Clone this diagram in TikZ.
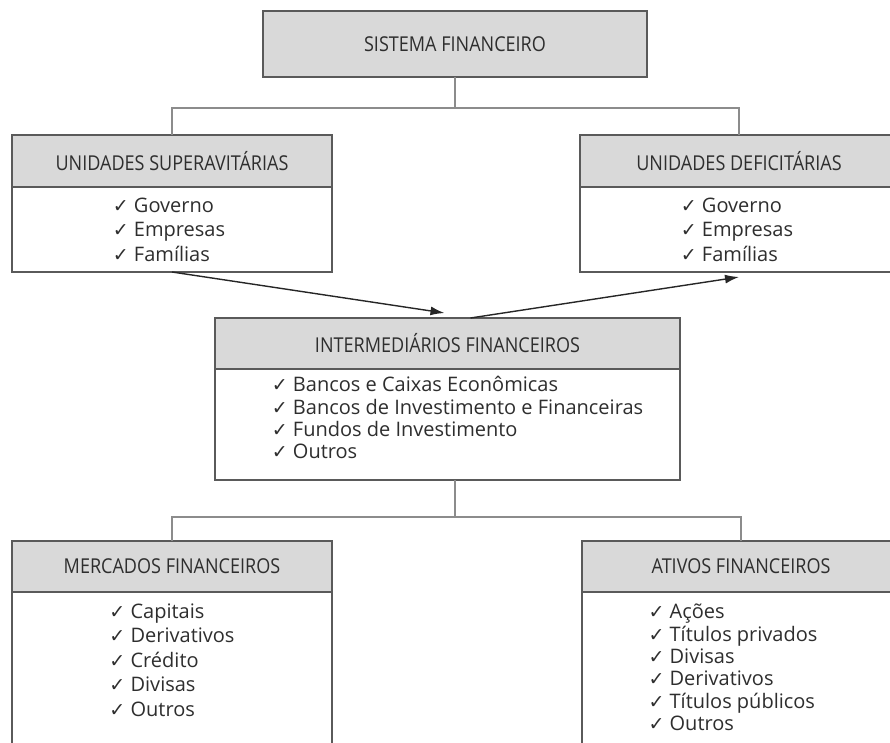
\documentclass[tikz,border=0pt]{standalone}
\usepackage{fontspec}
\setmainfont{Open Sans}
\newfontfamily\titulofont[FakeStretch=0.88]{Open Sans}
\newfontfamily\checkfont{DejaVu Sans}
\usetikzlibrary{arrows.meta,positioning,calc}

\definecolor{fundocinza}{HTML}{D9D9D9}
\definecolor{bordacinza}{HTML}{5A5A5A}
\definecolor{linhacinza}{HTML}{8C8C8C}
\definecolor{textocinza}{HTML}{2E2E2E}

\newcommand{\ok}{{\checkfont\bfseries\fontsize{19}{19}\selectfont ✓}\ }

\tikzset{
    cabecalho/.style={draw=bordacinza, line width=1.4pt, fill=fundocinza, text=textocinza,
        font=\titulofont\fontsize{20.5}{24}\selectfont, inner sep=0pt, outer sep=0pt},
    corpo/.style={draw=bordacinza, line width=1.4pt, fill=white, inner sep=0pt, outer sep=0pt},
    lista/.style={text=textocinza, font=\fontsize{20}{24.5}\selectfont, inner sep=0pt},
    listajusta/.style={lista, font=\fontsize{20}{22.3}\selectfont},
    ligacao/.style={linhacinza, line width=1.3pt},
    fluxo/.style={black!85, line width=1.4pt, ->}
}

\begin{document}
\begin{tikzpicture}[x=1pt, y=-1pt, >={Latex[length=14pt,width=9pt]}]
    % ==== FRAME ====
    \useasboundingbox (0,0) rectangle (890,743);
    \clip (0,0) rectangle (890,743);

    % ==== SISTEMA FINANCEIRO ====
    \node[cabecalho, minimum width=384pt, minimum height=66pt] (sistema) at (455,44) {SISTEMA FINANCEIRO};

    % ==== UNIDADES ====
    \node[cabecalho, minimum width=320pt, minimum height=52pt] (suphead) at (172,161) {UNIDADES SUPERAVITÁRIAS};
    \node[corpo, minimum width=320pt, minimum height=85pt, below=0pt of suphead] (supbody) {};
    \node[lista, below=8pt of suphead.south, xshift=-3pt] (suplista)
        {\begin{tabular}{@{}l@{}}\ok Governo\\ \ok Empresas\\ \ok Famílias\end{tabular}};

    \node[cabecalho, minimum width=318pt, minimum height=52pt] (defhead) at (739,161) {UNIDADES DEFICITÁRIAS};
    \node[corpo, minimum width=318pt, minimum height=85pt, below=0pt of defhead] (defbody) {};
    \node[lista, below=8pt of defhead.south, xshift=-2pt] (deflista)
        {\begin{tabular}{@{}l@{}}\ok Governo\\ \ok Empresas\\ \ok Famílias\end{tabular}};

    % ==== INTERMEDIARIOS ====
    \node[cabecalho, minimum width=465pt, minimum height=51pt] (interhead) at (447.5,343.5) {INTERMEDIÁRIOS FINANCEIROS};
    \node[corpo, minimum width=465pt, minimum height=111pt, below=0pt of interhead] (interbody) {};
    \node[listajusta, below=7pt of interhead.south, xshift=10pt] (interlista)
        {\begin{tabular}{@{}l@{}}\ok Bancos e Caixas Econômicas\\ \ok Bancos de Investimento e Financeiras\\
         \ok Fundos de Investimento\\ \ok Outros\end{tabular}};

    % ==== MERCADOS E ATIVOS ====
    \node[cabecalho, minimum width=320pt, minimum height=51pt] (merchead) at (172,566.5) {MERCADOS FINANCEIROS};
    \node[corpo, minimum width=320pt, minimum height=220pt, below=0pt of merchead] (mercbody) {};
    \node[lista, below=9pt of merchead.south] (merclista)
        {\begin{tabular}{@{}l@{}}\ok Capitais\\ \ok Derivativos\\ \ok Crédito\\ \ok Divisas\\ \ok Outros\end{tabular}};

    \node[cabecalho, minimum width=318pt, minimum height=51pt] (ativhead) at (741,566.5) {ATIVOS FINANCEIROS};
    \node[corpo, minimum width=318pt, minimum height=220pt, below=0pt of ativhead] (ativbody) {};
    \node[listajusta, below=11pt of ativhead.south, xshift=-8pt] (ativlista)
        {\begin{tabular}{@{}l@{}}\ok Ações\\ \ok Títulos privados\\ \ok Divisas\\ \ok Derivativos\\
         \ok Títulos públicos\\ \ok Outros\end{tabular}};

    % ==== CONNECTORS ====
    \draw[ligacao] (sistema.south) -- ++(0,31) -| (suphead.north);
    \draw[ligacao] (sistema.south) -- ++(0,31) -| (defhead.north);
    \draw[ligacao] (sistema.south |- interbody.south) -- ++(0,37) -| (merchead.north);
    \draw[ligacao] (sistema.south |- interbody.south) -- ++(0,37) -| (ativhead.north);

    % ==== ARROWS ====
    \draw[fluxo] (supbody.south) -- ($(interhead.north)+(-3,-5)$);
    \draw[fluxo] ($(interhead.north)+(23,0)$) -- ($(defbody.south)+(0,5)$);
\end{tikzpicture}
\end{document}
